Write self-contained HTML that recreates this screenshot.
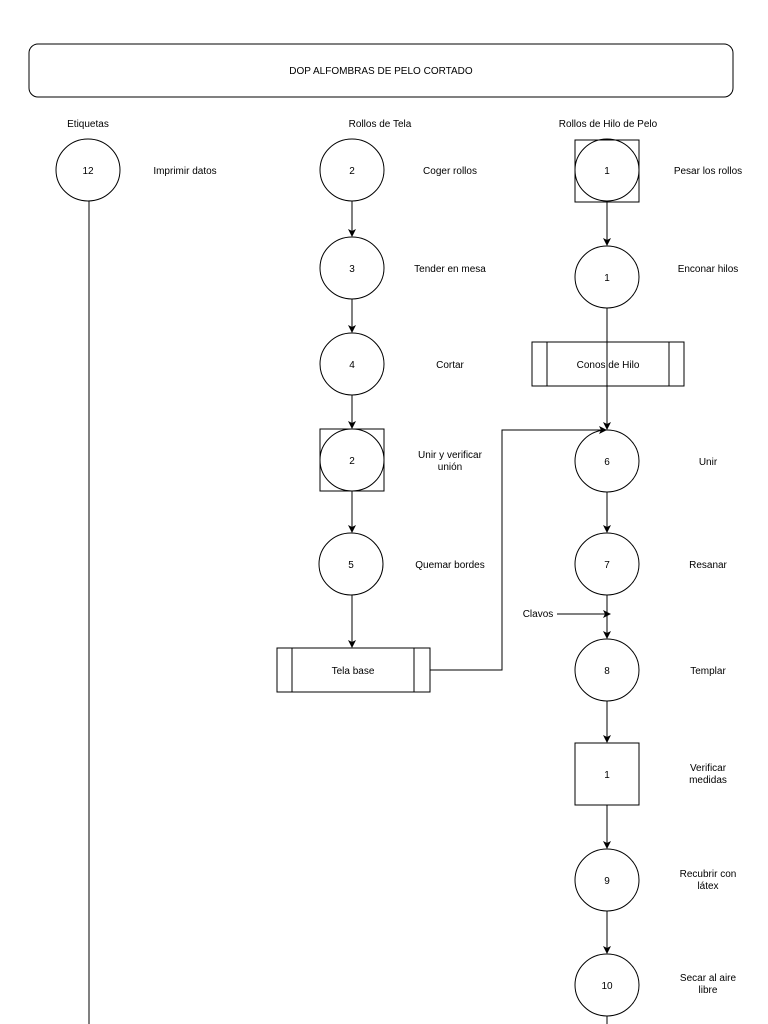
<!DOCTYPE html>
<html><head><style>body{margin:0;background:#fff}svg{display:block}text{font-family:"Liberation Sans",sans-serif;font-size:10px;fill:#000}</style></head><body>
<svg width="768" height="1024" viewBox="0 0 768 1024">
<defs><marker id="a" markerWidth="8" markerHeight="8" refX="7" refY="4" orient="auto" markerUnits="userSpaceOnUse"><path d="M0,0 L8,4 L0,8 L2,4 z" fill="#000"/></marker></defs>
<g fill="none" stroke="#000" stroke-width="1">
<rect x="29" y="44" width="704" height="53" rx="9"/>
<ellipse cx="88" cy="170" rx="32" ry="31"/>
<line x1="89" y1="201" x2="89" y2="1024"/>
<ellipse cx="352" cy="170" rx="32" ry="31"/>
<ellipse cx="352" cy="268" rx="32" ry="31"/>
<ellipse cx="352" cy="364" rx="32" ry="31"/>
<rect x="320" y="429" width="64" height="62"/>
<ellipse cx="352" cy="460" rx="32" ry="31"/>
<ellipse cx="351" cy="564" rx="32" ry="31"/>
<rect x="277" y="648" width="153" height="44"/>
<line x1="292" y1="648" x2="292" y2="692"/><line x1="414" y1="648" x2="414" y2="692"/>
<line x1="352" y1="201" x2="352" y2="236" marker-end="url(#a)"/>
<line x1="352" y1="299" x2="352" y2="332" marker-end="url(#a)"/>
<line x1="352" y1="395" x2="352" y2="428" marker-end="url(#a)"/>
<line x1="352" y1="491" x2="352" y2="532" marker-end="url(#a)"/>
<line x1="352" y1="595" x2="352" y2="647" marker-end="url(#a)"/>
<polyline points="430,670 502,670 502,430 606,430" marker-end="url(#a)"/>
<rect x="575" y="140" width="64" height="62"/>
<ellipse cx="607" cy="170" rx="32" ry="31"/>
<ellipse cx="607" cy="277" rx="32" ry="31"/>
<rect x="532" y="342" width="152" height="44"/>
<line x1="547" y1="342" x2="547" y2="386"/><line x1="669" y1="342" x2="669" y2="386"/>
<ellipse cx="607" cy="461" rx="32" ry="31"/>
<ellipse cx="607" cy="564" rx="32" ry="31"/>
<ellipse cx="607" cy="670" rx="32" ry="31"/>
<rect x="575" y="743" width="64" height="62"/>
<ellipse cx="607" cy="880" rx="32" ry="31"/>
<ellipse cx="607" cy="985" rx="32" ry="31"/>
<line x1="607" y1="202" x2="607" y2="245" marker-end="url(#a)"/>
<line x1="607" y1="308" x2="607" y2="429" marker-end="url(#a)"/>
<line x1="607" y1="492" x2="607" y2="532" marker-end="url(#a)"/>
<line x1="607" y1="595" x2="607" y2="638" marker-end="url(#a)"/>
<line x1="557" y1="614" x2="610" y2="614" marker-end="url(#a)"/>
<line x1="607" y1="701" x2="607" y2="742" marker-end="url(#a)"/>
<line x1="607" y1="805" x2="607" y2="848" marker-end="url(#a)"/>
<line x1="607" y1="911" x2="607" y2="953" marker-end="url(#a)"/>
<line x1="607" y1="1016" x2="607" y2="1024"/>
</g>
<g text-anchor="middle">
<text x="381" y="74">DOP ALFOMBRAS DE PELO CORTADO</text>
<text x="88" y="127">Etiquetas</text>
<text x="380" y="127">Rollos de Tela</text>
<text x="608" y="127">Rollos de Hilo de Pelo</text>
<text x="88" y="174">12</text>
<text x="185" y="174">Imprimir datos</text>
<text x="352" y="174">2</text><text x="450" y="174">Coger rollos</text>
<text x="352" y="272">3</text><text x="450" y="272">Tender en mesa</text>
<text x="352" y="368">4</text><text x="450" y="368">Cortar</text>
<text x="352" y="464">2</text><text x="450" y="458">Unir y verificar</text><text x="450" y="470">unión</text>
<text x="351" y="568">5</text><text x="450" y="568">Quemar bordes</text>
<text x="353" y="674">Tela base</text>
<text x="607" y="174">1</text><text x="708" y="174">Pesar los rollos</text>
<text x="607" y="281">1</text><text x="708" y="272">Enconar hilos</text>
<text x="608" y="368">Conos de Hilo</text>
<text x="607" y="465">6</text><text x="708" y="465">Unir</text>
<text x="607" y="568">7</text><text x="708" y="568">Resanar</text>
<text x="538" y="617">Clavos</text>
<text x="607" y="674">8</text><text x="708" y="674">Templar</text>
<text x="607" y="778">1</text><text x="708" y="771">Verificar</text><text x="708" y="783">medidas</text>
<text x="607" y="884">9</text><text x="708" y="877">Recubrir con</text><text x="708" y="889">látex</text>
<text x="607" y="989">10</text><text x="708" y="981">Secar al aire</text><text x="708" y="993">libre</text>
</g>
</svg>
</body></html>
